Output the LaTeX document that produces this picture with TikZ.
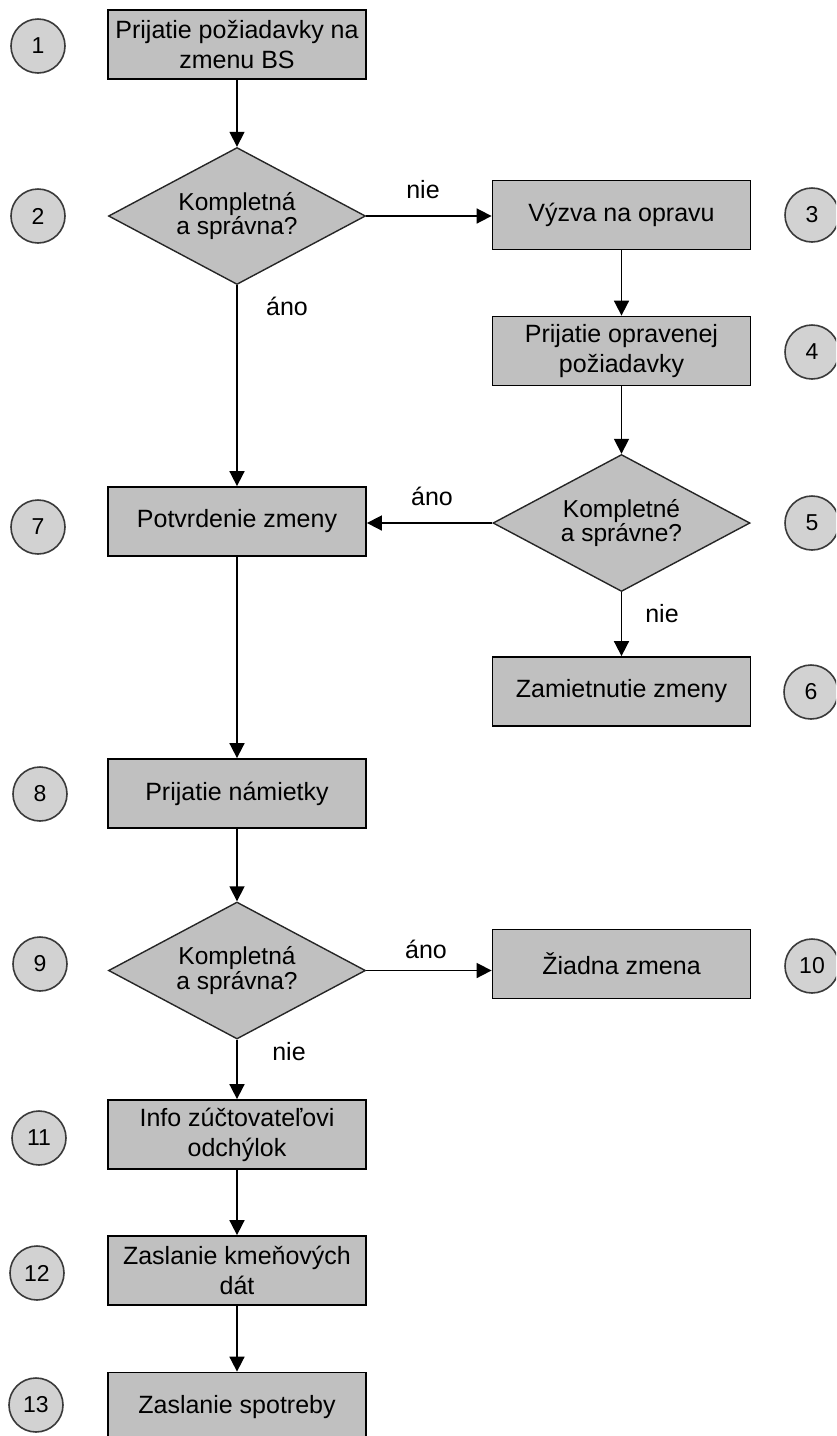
\documentclass[tikz,border=0pt]{standalone}
\usepackage{fontspec}
\setmainfont{Liberation Sans}
\usetikzlibrary{shapes.geometric,arrows.meta}
\definecolor{boxgray}{HTML}{C0C0C0}
\definecolor{circgray}{HTML}{D2D2D2}
\definecolor{edgegray}{HTML}{3A3A3A}
\begin{document}
\begin{tikzpicture}[x=1pt,y=-1pt,
  proc/.style={draw=black, line width=1.8pt, fill=boxgray, minimum width=258pt, minimum height=69pt, inner sep=0pt, align=center, font=\fontsize{25}{30}\selectfont},
  dec/.style={diamond, aspect=1.87, draw=black!85, line width=1.4pt, fill=boxgray, minimum width=257pt, minimum height=137pt, inner sep=0pt, align=center, font=\fontsize{24.5}{22}\selectfont},
  num/.style={circle, draw=edgegray, line width=1.6pt, fill=circgray, minimum size=54pt, inner sep=0pt, font=\fontsize{23}{24}\selectfont},
  conn/.style={line width=1.7pt, -{Triangle[width=15pt,length=15pt]}},
  lbl/.style={font=\fontsize{25}{25}\selectfont, anchor=base, inner sep=0pt}
]
\useasboundingbox (0,0) rectangle (836,1436);
\clip (0,0) rectangle (836,1436);

% process boxes
\node[proc] (b1) at (237,44.5) {Prijatie požiadavky na\\zmenu BS};
\node[proc] (b3) at (621.5,215) {Výzva na opravu};
\node[proc] (b4) at (621.5,351) {Prijatie opravenej\\požiadavky};
\node[proc] (b6) at (621.5,691.5) {Zamietnutie zmeny};
\node[proc] (b7) at (237,521.5) {Potvrdenie zmeny};
\node[proc] (b8) at (237,793.5) {Prijatie námietky};
\node[proc] (b10) at (621.5,964) {Žiadna zmena};
\node[proc] (b11) at (237,1134.5) {Info zúčtovateľovi\\odchýlok};
\node[proc] (b12) at (237,1270.5) {Zaslanie kmeňových\\dát};
\node[proc] (b13) at (237,1407) {Zaslanie spotreby};

% decisions
\node[dec] (d2) at (237,216) {Kompletná\\a správna?};
\node[dec] (d5) at (621.5,523) {Kompletné\\a správne?};
\node[dec] (d9) at (237,970.5) {Kompletná\\a správna?};

% number circles
\node[num] (n1) at (38,46) {1};
\node[num] (n2) at (38,216) {2};
\node[num] (n3) at (812,215) {3};
\node[num] (n4) at (812,352) {4};
\node[num] (n5) at (812,523) {5};
\node[num] (n6) at (811,692) {6};
\node[num] (n7) at (38,527) {7};
\node[num] (n8) at (40,794) {8};
\node[num] (n9) at (40,964) {9};
\node[num] (n10) at (812,966) {10};
\node[num] (n11) at (39,1138) {11};
\node[num] (n12) at (37,1273) {12};
\node[num] (n13) at (36,1405) {13};

% connectors
\draw[conn] (b1.south) -- (d2.north);
\draw[conn] (d2.east) -- (d2.east -| b3.west);
\draw[conn] (d2.south) -- (b7.north);
\draw[conn] (b3.south) -- (b4.north);
\draw[conn] (b4.south) -- (d5.north);
\draw[conn] (d5.west) -- (d5.west -| b7.east);
\draw[conn] (d5.south) -- (b6.north);
\draw[conn] (b7.south) -- (b8.north);
\draw[conn] (b8.south) -- (d9.north);
\draw[conn] (d9.east) -- (d9.east -| b10.west);
\draw[conn] (d9.south) -- (b11.north);
\draw[conn] (b11.south) -- (b12.north);
\draw[conn] (b12.south) -- (b13.north);

% labels
\node[lbl] (l1) at (423,198) {nie};
\node[lbl] (l2) at (287,315) {áno};
\node[lbl] (l3) at (432,505) {áno};
\node[lbl] (l4) at (662,622) {nie};
\node[lbl] (l5) at (426,958) {áno};
\node[lbl] (l6) at (289,1060) {nie};
\end{tikzpicture}
\end{document}
